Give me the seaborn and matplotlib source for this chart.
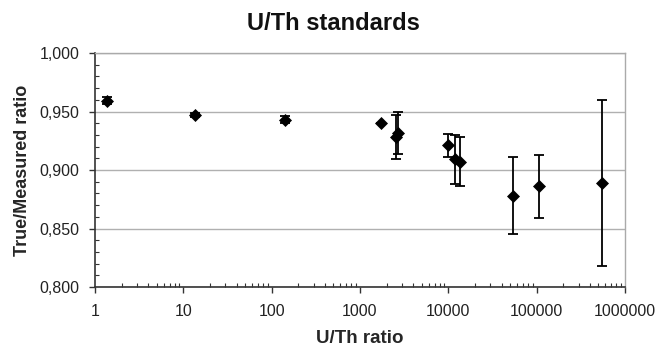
import numpy as np
import pandas as pd
import matplotlib
matplotlib.use("Agg")
import matplotlib.pyplot as plt
import matplotlib.ticker as mticker
import seaborn as sns

# Data
ratio = [1.36, 13.6, 141, 1720, 2550, 2700, 10000, 11900, 13600, 54600, 107000, 546000]
true_measured = [0.959, 0.947, 0.943, 0.940, 0.928, 0.932, 0.921, 0.909, 0.907, 0.878, 0.886, 0.889]
err = [0.003, 0.002, 0.003, 0.0, 0.019, 0.018, 0.010, 0.021, 0.021, 0.033, 0.027, 0.071]

title = "U/Th standards"
xlabel = "U/Th ratio"
ylabel = "True/Measured ratio"

sns.set_style("white")
plt.rcParams['font.family'] = ['Liberation Sans', 'DejaVu Sans']

df = pd.DataFrame({"ratio": ratio, "tm": true_measured, "err": err})

fig = plt.figure(figsize=(6.61, 3.5), dpi=100)
ax = fig.add_axes([95/661, 1-287/350, (625-95)/661, (287-53)/350])

ax.errorbar(df["ratio"], df["tm"], yerr=df["err"], fmt='none', ecolor='black',
            elinewidth=1.3, capsize=3.6, capthick=1.3, zorder=3)
sns.scatterplot(data=df, x="ratio", y="tm", marker='D', color='black', s=44,
                edgecolor='black', linewidth=0, ax=ax, zorder=4, legend=False)

ax.set_xscale('log')
ax.set_xlim(1, 1e6)
ax.set_ylim(0.8, 1.0)

ax.xaxis.set_major_locator(mticker.LogLocator(base=10, numticks=10))
ax.xaxis.set_minor_locator(mticker.LogLocator(base=10, subs=np.arange(2, 10), numticks=20))
ax.xaxis.set_major_formatter(mticker.FuncFormatter(lambda v, p: f"{int(round(v))}"))
ax.xaxis.set_minor_formatter(mticker.NullFormatter())

ax.yaxis.set_major_locator(mticker.MultipleLocator(0.05))
ax.yaxis.set_minor_locator(mticker.MultipleLocator(0.01))
ax.yaxis.set_major_formatter(mticker.FuncFormatter(lambda v, p: f"{v:.3f}".replace('.', ',')))

ax.grid(axis='y', which='major', color='#b0b0b0', linewidth=1.0)
ax.set_axisbelow(True)

for s in ['left', 'bottom']:
    ax.spines[s].set_color('#333333')
    ax.spines[s].set_linewidth(1.2)
for s in ['top', 'right']:
    ax.spines[s].set_color('#aaaaaa')
    ax.spines[s].set_linewidth(1.0)

ax.tick_params(axis='both', which='major', direction='out', length=4, width=1,
               color='#333333', labelsize=11.5, labelcolor='#222222')
ax.tick_params(axis='y', which='major', pad=7)
ax.tick_params(axis='x', which='major', pad=8)
ax.tick_params(axis='both', which='minor', direction='in', length=3, width=0.8,
               color='#333333')
ax.tick_params(axis='x', which='both', bottom=True)
ax.tick_params(axis='y', which='both', left=True)

ax.set_xlabel(xlabel, fontsize=13.5, fontweight='bold', labelpad=8)
ax.set_ylabel(ylabel, fontsize=13, fontweight='bold', labelpad=6)
fig.text(333/661, 1-29.5/350, title, fontsize=17, fontweight='bold',
         ha='center', va='baseline', color='#111111')

fig.savefig("out.png", dpi=100)
